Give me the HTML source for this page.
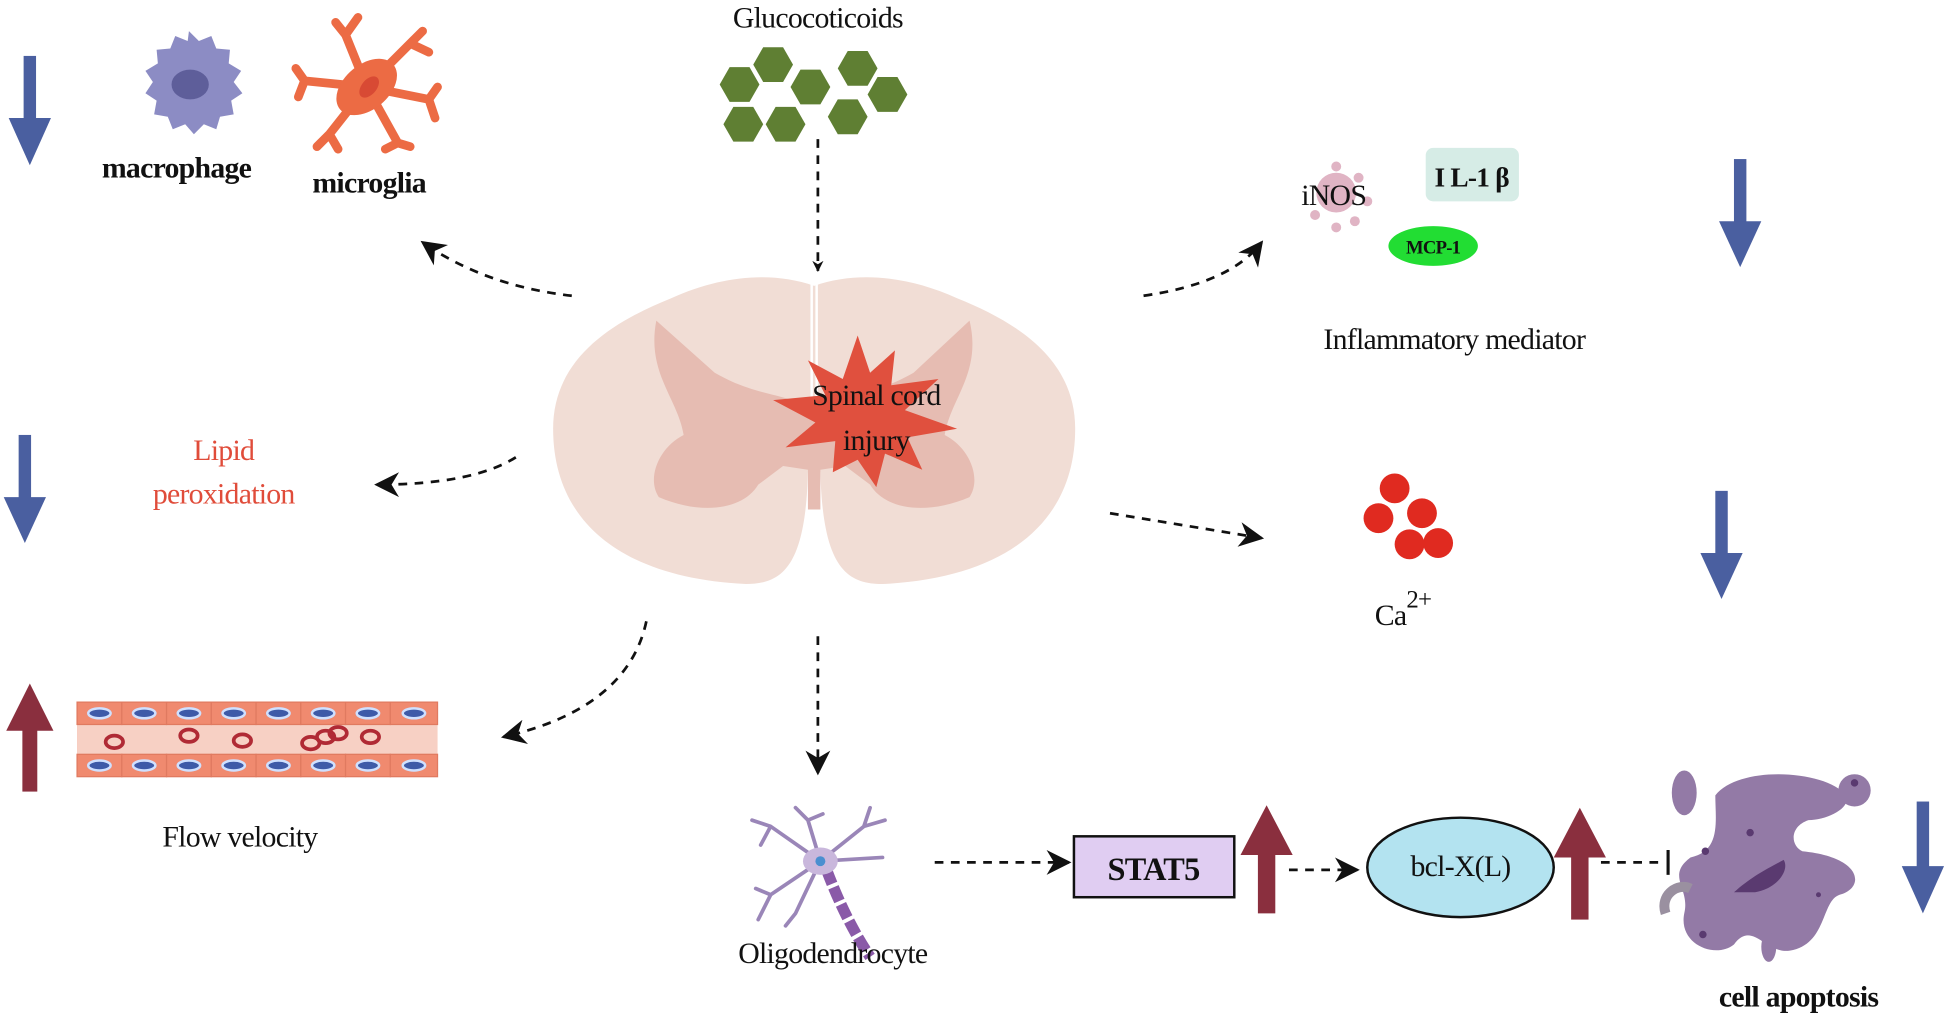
<!DOCTYPE html>
<html><head><meta charset="utf-8"><style>
html,body{margin:0;padding:0;background:#fff;overflow:hidden}
svg{display:block}
text{font-family:"Liberation Serif",serif;fill:#111;letter-spacing:-0.6px}
</style></head><body>
<svg width="1949" height="1019" viewBox="0 0 1568 820" preserveAspectRatio="none" xmlns="http://www.w3.org/2000/svg">
<defs>
<marker id="ah" viewBox="0 0 10 10" refX="9" refY="5" markerWidth="9" markerHeight="9" markerUnits="userSpaceOnUse" orient="auto"><path d="M0,0 L10,5 L0,10 L3,5 Z" fill="#111"/></marker>
<marker id="ahb" viewBox="0 0 10 10" refX="9" refY="5" markerWidth="20" markerHeight="20" markerUnits="userSpaceOnUse" orient="auto"><path d="M0,0 L10,5 L0,10 L3,5 Z" fill="#111"/></marker>
<g id="hex"><polygon points="-16,0 -8,-14 8,-14 16,0 8,14 -8,14" fill="#5f7f33"/></g>
</defs>

<g fill="#4a5fa0">
<rect x="19" y="45" width="10" height="55"/><polygon points="7,95 41,95 24,133"/>
<rect x="15" y="350" width="10" height="55"/><polygon points="3,400 37,400 20,437"/>
<rect x="1395" y="128" width="10" height="55"/><polygon points="1383,178 1417,178 1400,215"/>
<rect x="1380" y="395" width="10" height="55"/><polygon points="1368,445 1402,445 1385,482"/>
<rect x="1542" y="645" width="10" height="55"/><polygon points="1530,697 1564,697 1547,735"/>
</g>
<g fill="#8a2f3e">
<rect x="18" y="585" width="12" height="52"/><polygon points="5,588 43,588 24,550"/>
<rect x="1012" y="685" width="14" height="50"/><polygon points="998,688 1040,688 1019,648"/>
<rect x="1264" y="688" width="14" height="52"/><polygon points="1250,690 1292,690 1271,650"/>
</g>

<g>
<path d="M152,25 l8,8 l10,-4 l4,10 l11,1 l-1,11 l10,6 l-6,9 l7,9 l-9,6 l2,11 l-11,2 l-3,10 l-10,-4 l-8,8 l-7,-8 l-10,4 l-4,-10 l-11,-2 l2,-11 l-9,-6 l6,-9 l-6,-9 l10,-6 l-1,-11 l11,-1 l4,-10 l10,4 z" fill="#8c8cc4"/>
<ellipse cx="153" cy="68" rx="15" ry="12" fill="#5e5e9a"/>
</g>
<text x="142" y="143" font-size="24" font-weight="bold" text-anchor="middle">macrophage</text>
<g stroke="#ec6b44" stroke-width="7" stroke-linecap="round" fill="none">
<path d="M295,70 L278,28 M278,28 L270,18 M278,28 L288,14"/>
<path d="M295,70 L330,35 M330,35 L340,25 M330,35 L345,42"/>
<path d="M295,70 L345,80 M345,80 L352,70 M345,80 L350,95"/>
<path d="M295,70 L320,115 M320,115 L330,118 M320,115 L310,120"/>
<path d="M295,70 L265,108 M265,108 L255,118 M265,108 L272,120"/>
<path d="M295,70 L245,65 M245,65 L238,55 M245,65 L240,78"/>
</g>
<ellipse cx="295" cy="70" rx="28" ry="18" fill="#ec6b44" transform="rotate(-40 295 70)"/>
<ellipse cx="297" cy="70" rx="10" ry="6" fill="#d84a34" transform="rotate(-50 297 70)"/>
<text x="297" y="155" font-size="24" font-weight="bold" text-anchor="middle">microglia</text>

<text x="658" y="22" font-size="24" text-anchor="middle">Glucocoticoids</text>
<use href="#hex" x="622" y="52"/><use href="#hex" x="690" y="55"/>
<use href="#hex" x="595" y="68"/><use href="#hex" x="652" y="70"/><use href="#hex" x="714" y="76"/>
<use href="#hex" x="598" y="100"/><use href="#hex" x="632" y="100"/><use href="#hex" x="682" y="94"/>

<g stroke="#111" stroke-width="2.2" stroke-dasharray="7,6" fill="none">
<path d="M658,112 L658,218" marker-end="url(#ah)"/>
<path d="M460,238 Q390,230 340,195" marker-end="url(#ahb)"/>
<path d="M415,368 Q380,390 303,390" marker-end="url(#ahb)"/>
<path d="M520,500 Q505,570 405,593" marker-end="url(#ahb)"/>
<path d="M658,512 L658,622" marker-end="url(#ahb)"/>
<path d="M920,238 Q990,228 1015,195" marker-end="url(#ahb)"/>
<path d="M893,413 L1015,433" marker-end="url(#ahb)"/>
<path d="M752,694 L860,694" marker-end="url(#ahb)"/>
<path d="M1037,700 L1092,700" marker-end="url(#ahb)"/>
</g>
<path d="M1288,694 L1340,694" stroke="#111" stroke-width="2.2" stroke-dasharray="7,6"/>
<path d="M1342,684 L1342,704" stroke="#111" stroke-width="2.5"/>

<path d="M655,230 C620,218 580,222 540,240 C490,260 445,290 445,345 C445,420 500,465 600,470 C630,470 648,455 650,380 L660,380 C662,455 680,470 710,470 C810,465 865,420 865,345 C865,290 820,260 770,240 C730,222 690,218 655,230 Z" fill="#f1ddd5"/>
<path d="M653,228 L653,325 M657,228 L657,325" stroke="#fff" stroke-width="2"/>
<path d="M528,258 L575,300 C610,320 630,315 655,330 C680,315 700,320 735,300 L780,258 C790,300 765,320 760,350 C780,360 790,385 780,400 C745,415 712,410 700,390 L680,375 L660,378 L660,410 L650,410 L650,378 L630,375 L610,390 C598,410 565,415 530,400 C520,385 530,360 550,350 C545,320 520,300 528,258 Z" fill="#e6bcb2"/>
<polygon points="690,270 700,300 720,282 717,310 755,305 728,330 770,345 730,352 742,378 712,365 705,392 690,370 670,380 672,355 632,360 656,340 622,322 664,318 650,290 678,305" fill="#e0503e"/>
<text x="705" y="326" font-size="24" text-anchor="middle">Spinal cord</text>
<text x="705" y="362" font-size="24" text-anchor="middle">injury</text>

<text x="180" y="370" font-size="24" text-anchor="middle" style="fill:#e04c3a">Lipid</text>
<text x="180" y="405" font-size="24" text-anchor="middle" style="fill:#e04c3a">peroxidation</text>

<rect x="62" y="565" width="290" height="60" rx="4" fill="#f2a98e"/>
<rect x="62" y="583" width="290" height="24" fill="#f7d0c4"/>
<g fill="#f08a6f" stroke="#e07a60">
<rect x="62" y="565" width="36" height="18"/><rect x="98" y="565" width="36" height="18"/><rect x="134" y="565" width="36" height="18"/><rect x="170" y="565" width="36" height="18"/><rect x="206" y="565" width="36" height="18"/><rect x="242" y="565" width="36" height="18"/><rect x="278" y="565" width="36" height="18"/><rect x="314" y="565" width="38" height="18"/>
<rect x="62" y="607" width="36" height="18"/><rect x="98" y="607" width="36" height="18"/><rect x="134" y="607" width="36" height="18"/><rect x="170" y="607" width="36" height="18"/><rect x="206" y="607" width="36" height="18"/><rect x="242" y="607" width="36" height="18"/><rect x="278" y="607" width="36" height="18"/><rect x="314" y="607" width="38" height="18"/>
</g>
<g fill="#3e5aa8" stroke="#cfe0ff" stroke-width="2">
<ellipse cx="80" cy="574" rx="9" ry="4"/><ellipse cx="116" cy="574" rx="9" ry="4"/><ellipse cx="152" cy="574" rx="9" ry="4"/><ellipse cx="188" cy="574" rx="9" ry="4"/><ellipse cx="224" cy="574" rx="9" ry="4"/><ellipse cx="260" cy="574" rx="9" ry="4"/><ellipse cx="296" cy="574" rx="9" ry="4"/><ellipse cx="333" cy="574" rx="9" ry="4"/>
<ellipse cx="80" cy="616" rx="9" ry="4"/><ellipse cx="116" cy="616" rx="9" ry="4"/><ellipse cx="152" cy="616" rx="9" ry="4"/><ellipse cx="188" cy="616" rx="9" ry="4"/><ellipse cx="224" cy="616" rx="9" ry="4"/><ellipse cx="260" cy="616" rx="9" ry="4"/><ellipse cx="296" cy="616" rx="9" ry="4"/><ellipse cx="333" cy="616" rx="9" ry="4"/>
</g>
<g fill="none" stroke="#b02a35" stroke-width="3">
<ellipse cx="92" cy="597" rx="7" ry="5"/><ellipse cx="152" cy="592" rx="7" ry="5"/><ellipse cx="195" cy="596" rx="7" ry="5"/><ellipse cx="250" cy="598" rx="7" ry="5"/><ellipse cx="262" cy="593" rx="7" ry="5"/><ellipse cx="272" cy="590" rx="7" ry="5"/><ellipse cx="298" cy="593" rx="7" ry="5"/>
</g>
<text x="193" y="681" font-size="24" text-anchor="middle">Flow velocity</text>

<g stroke="#9a86b8" stroke-width="3" fill="none" stroke-linecap="round">
<path d="M660,693 L620,665 L605,660 M620,665 L612,680"/>
<path d="M660,693 L650,660 L640,650 M650,660 L662,655"/>
<path d="M660,693 L695,665 L712,660 M695,665 L700,650"/>
<path d="M660,693 L620,720 L610,740 M620,720 L608,715"/>
<path d="M660,693 L640,735 L632,745"/>
<path d="M660,693 L710,690"/>
</g>
<path d="M665,700 Q680,740 700,770" stroke="#8a5aa8" stroke-width="9" stroke-dasharray="12,3" fill="none"/>
<ellipse cx="660" cy="693" rx="14" ry="11" fill="#c9b7dc"/>
<circle cx="660" cy="693" r="4" fill="#4a8fd0"/>
<text x="670" y="775" font-size="24" text-anchor="middle">Oligodendrocyte</text>

<rect x="864" y="673" width="129" height="49" fill="#e0cdf2" stroke="#111" stroke-width="2"/>
<text x="928" y="708" font-size="26" font-weight="bold" text-anchor="middle">STAT5</text>
<ellipse cx="1175" cy="698" rx="75" ry="40" fill="#b3e3f0" stroke="#111" stroke-width="2"/>
<text x="1175" y="705" font-size="24" text-anchor="middle">bcl-X(L)</text>

<g fill="#937aa6">
<path d="M1380,640 C1400,615 1470,620 1485,640 C1490,650 1470,660 1455,660 C1440,665 1440,680 1450,685 C1500,690 1500,715 1480,720 C1465,725 1470,760 1440,765 C1420,768 1410,740 1395,760 C1380,772 1350,760 1355,735 C1360,715 1340,705 1360,690 C1385,685 1380,660 1380,640 Z"/>
<circle cx="1492" cy="636" r="13"/><ellipse cx="1355" cy="638" rx="10" ry="18"/><ellipse cx="1423" cy="762" rx="6" ry="12"/>
<path d="M1340,735 C1335,720 1350,710 1360,715" stroke="#9a90a0" stroke-width="8" fill="none"/>
</g>
<path d="M1395,718 C1410,705 1420,700 1435,692 C1440,700 1430,715 1412,718 Z" fill="#5a3a70"/>
<g fill="#5a3a70"><circle cx="1408" cy="670" r="3"/><circle cx="1492" cy="630" r="3"/><circle cx="1372" cy="685" r="3"/><circle cx="1370" cy="752" r="3"/><circle cx="1463" cy="720" r="2"/></g>
<text x="1447" y="810" font-size="24" font-weight="bold" text-anchor="middle">cell apoptosis</text>

<g fill="#e0b4c4">
<circle cx="1075" cy="155" r="16"/>
<circle cx="1075" cy="134" r="4"/><circle cx="1093" cy="143" r="4"/><circle cx="1100" cy="162" r="4"/><circle cx="1090" cy="178" r="4"/><circle cx="1075" cy="183" r="4"/><circle cx="1058" cy="173" r="4"/>
</g>
<text x="1073" y="165" font-size="24" text-anchor="middle">iNOS</text>
<rect x="1147" y="119" width="75" height="43" rx="6" fill="#d6ece6"/>
<text x="1184" y="150" font-size="22" font-weight="bold" text-anchor="middle">I L-1 β</text>
<ellipse cx="1153" cy="198" rx="36" ry="16" fill="#22dd33"/>
<text x="1153" y="204" font-size="15" font-weight="bold" text-anchor="middle">MCP-1</text>
<text x="1170" y="281" font-size="24" text-anchor="middle">Inflammatory mediator</text>

<g fill="#e02a20">
<circle cx="1122" cy="393" r="12"/><circle cx="1109" cy="417" r="12"/><circle cx="1144" cy="413" r="12"/><circle cx="1134" cy="438" r="12"/><circle cx="1157" cy="437" r="12"/>
</g>
<text x="1106" y="503" font-size="24">Ca<tspan font-size="20" dy="-14">2+</tspan></text>
</svg>
</body></html>
